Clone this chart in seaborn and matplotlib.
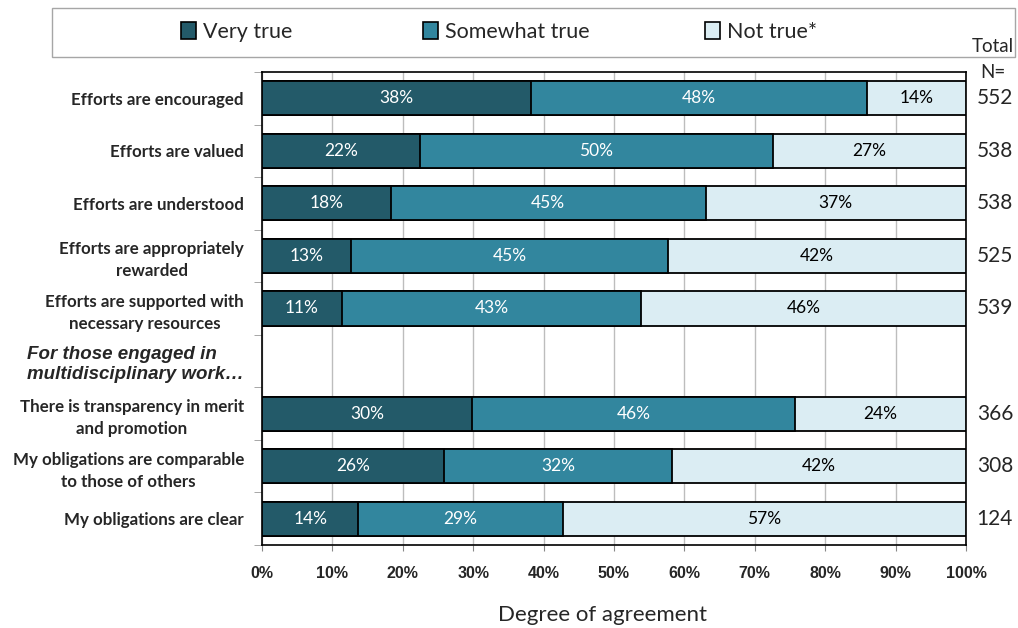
import numpy as np
import pandas as pd
import matplotlib.pyplot as plt
import seaborn as sns
from matplotlib.patches import Patch, Rectangle

# survey items (the italic header row has no data)
items = ["Efforts are encouraged",
         "Efforts are valued",
         "Efforts are understood",
         "Efforts are appropriately\nrewarded",
         "Efforts are supported with\nnecessary resources",
         "For those engaged in\nmultidisciplinary work…",
         "There is transparency in merit\nand promotion",
         "My obligations are comparable\nto those of others",
         "My obligations are clear"]
header_item = "For those engaged in\nmultidisciplinary work…"

very_true = [38.2, 22.4, 18.3, 12.6, 11.3, np.nan, 29.8, 25.9, 13.7]
somewhat_true = [47.7, 50.2, 44.7, 45.1, 42.6, np.nan, 45.9, 32.4, 29.0]
not_true = [14.1, 27.4, 37.0, 42.3, 46.1, np.nan, 24.3, 41.7, 57.3]
total_n = [552, 538, 538, 525, 539, None, 366, 308, 124]

series_names = ["Very true", "Somewhat true", "Not true*"]
colors = ["#235A69", "#32869E", "#DBEDF3"]
text_colors = ["white", "white", "black"]

df = pd.DataFrame({"item": items, "very": very_true, "somewhat": somewhat_true, "not": not_true})
df = df.dropna()
df["c1"] = df["very"]
df["c2"] = df["very"] + df["somewhat"]
df["c3"] = df["very"] + df["somewhat"] + df["not"]

sns.set_style("white")
calibri_like = ["Lato", "DejaVu Sans"]
arial_like = ["Liberation Sans", "DejaVu Sans"]
plt.rcParams["font.family"] = calibri_like

fig = plt.figure(figsize=(10.18, 6.28), dpi=100)
ax = fig.add_axes([262 / 1018, 1 - 545 / 628, 704 / 1018, 473 / 628])

# stacked bars: draw cumulative totals from the back to the front
for col, color in zip(["c3", "c2", "c1"], colors[::-1]):
    sns.barplot(data=df, y="item", x=col, order=items, color=color, width=0.65,
                saturation=1, edgecolor="black", linewidth=1.3, orient="h", ax=ax, zorder=3)

# value labels
for _, row in df.iterrows():
    yi = items.index(row["item"])
    starts = [0, row["c1"], row["c2"]]
    vals = [row["very"], row["somewhat"], row["not"]]
    for s, v, tc in zip(starts, vals, text_colors):
        ax.text(s + v / 2, yi, f"{v:.0f}%", ha="center", va="center",
                color=tc, fontsize=12.5, family=calibri_like, zorder=5)

ax.set_xlim(0, 100)
ax.set_ylim(len(items) - 0.5, -0.5)
ax.set_xticks(np.arange(0, 101, 10))
ax.set_xticklabels([f"{t}%" for t in range(0, 101, 10)], fontsize=11.5,
                   fontweight="bold", family=arial_like)
ax.xaxis.grid(True, color="#BDBDBD", linewidth=1, zorder=0)
ax.set_axisbelow(True)
ax.tick_params(axis="x", length=4, color="#888888", pad=11, bottom=True)
ax.set_xlabel("Degree of agreement", fontsize=16)
ax.xaxis.set_label_coords((602 - 262) / 704, -(615 - 545) / 473)
ax.xaxis.label.set_va("center")
ax.set_ylabel("")

ax.set_yticks(range(len(items)))
ax.set_yticklabels(items, fontsize=12.2, fontweight="bold", linespacing=1.45)
for lab in ax.get_yticklabels():
    lab.set_multialignment("center")
    if lab.get_text() == header_item:
        lab.set_family(arial_like)
        lab.set_style("italic")
        lab.set_multialignment("left")
        lab.set_fontsize(13.5)
        lab.set_linespacing(1.25)
ax.tick_params(axis="y", length=0, pad=13)
ax.set_yticks(np.arange(-0.5, len(items), 1), minor=True)
ax.tick_params(axis="y", which="minor", length=6, color="#999999", left=True)

for sp in ax.spines.values():
    sp.set_color("black")
    sp.set_linewidth(1.2)

# total N column
fig.text(993 / 1018, 1 - 47 / 628, "Total", ha="center", va="center", fontsize=13.5)
fig.text(993 / 1018, 1 - 73 / 628, "N=", ha="center", va="center", fontsize=13.5)
for i, n in enumerate(total_n):
    if n is None:
        continue
    ax.text(1.041, i, str(n), transform=ax.get_yaxis_transform(), ha="center",
            va="center", fontsize=15, clip_on=False)

# legend with its own frame box, one entry per slot like the original
fig.patches.append(Rectangle((52 / 1018, 1 - 57 / 628), 963 / 1018, 49 / 628,
                             transform=fig.transFigure, facecolor="white",
                             edgecolor="#A6A6A6", linewidth=1))
legend_x = [181, 423, 705]
for name, c, lx in zip(series_names, colors, legend_x):
    h = Patch(facecolor=c, edgecolor="black", linewidth=1.2)
    fig.legend([h], [name], loc="center left", bbox_to_anchor=(lx / 1018, 1 - 32 / 628),
               frameon=False, fontsize=15.5, handlelength=0.7, handleheight=0.85,
               handletextpad=0.3, borderpad=0, borderaxespad=0)

fig.savefig("out.png", dpi=100)
